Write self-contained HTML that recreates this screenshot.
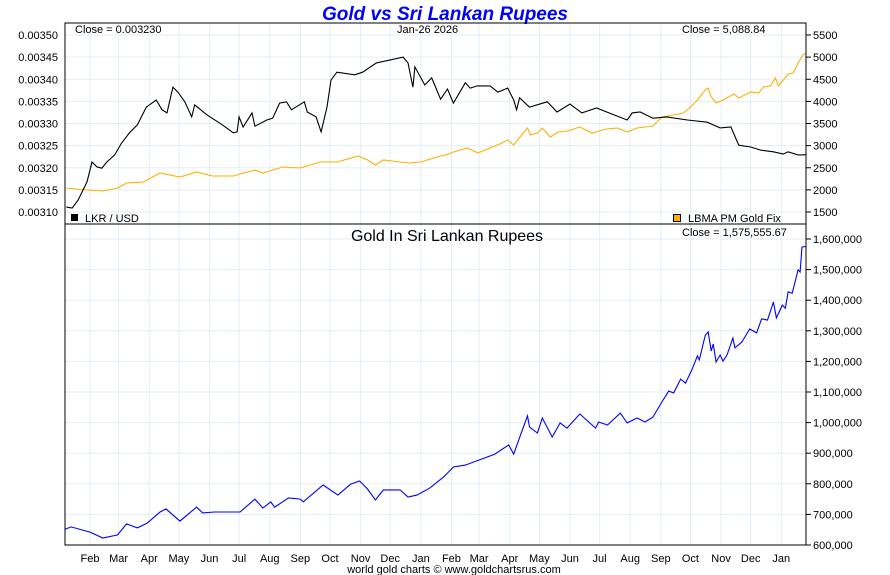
<!DOCTYPE html>
<html><head><meta charset="utf-8"><style>
html,body{margin:0;padding:0;background:#fff;}
svg{display:block;font-family:"Liberation Sans",Arial,sans-serif;}
</style></head><body>
<svg id="chart" width="890" height="575" viewBox="0 0 890 575">
<text x="445" y="20" text-anchor="middle" font-size="19" font-weight="bold" font-style="italic" fill="#0000ff">Gold vs Sri Lankan Rupees</text>
<g id="grid"></g>
<g id="series"></g>
<rect x="65" y="23" width="741" height="201" fill="none" stroke="#000" stroke-width="1"/>
<rect x="65" y="224" width="741" height="321" fill="none" stroke="#000" stroke-width="1"/>
<g id="axes" font-size="11" fill="#000"></g>
<text x="75" y="33" font-size="11">Close = 0.003230</text>
<text x="397" y="33" font-size="11">Jan-26  2026</text>
<text x="682" y="33" font-size="11">Close = 5,088.84</text>
<rect x="71" y="214" width="7" height="7" fill="#000"/>
<text x="85" y="222" font-size="11">LKR / USD</text>
<rect x="673.5" y="214.5" width="7" height="7" fill="#ffb000" stroke="#000"/>
<text x="688" y="222" font-size="11">LBMA PM Gold Fix</text>
<text x="447" y="241" font-size="16" text-anchor="middle">Gold In Sri Lankan Rupees</text>
<text x="682" y="236" font-size="11">Close = 1,575,555.67</text>
<text x="454" y="573" font-size="11" text-anchor="middle">world gold charts © www.goldchartsrus.com</text>
</svg>
<script>
// Days since 2024-01-01
const monthLabels = ["Feb","Mar","Apr","May","Jun","Jul","Aug","Sep","Oct","Nov","Dec","Jan","Feb","Mar","Apr","May","Jun","Jul","Aug","Sep","Oct","Nov","Dec","Jan"];
const monthDays = [31,60,91,121,152,182,213,244,274,305,335,366,397,425,456,486,517,547,578,609,639,670,700,731];
const leftTicks = [0.00310,0.00315,0.00320,0.00325,0.00330,0.00335,0.00340,0.00345,0.00350];
const rightTicks = [1500,2000,2500,3000,3500,4000,4500,5000,5500];
const bottomTicks = [600000,700000,800000,900000,1000000,1100000,1200000,1300000,1400000,1500000,1600000];

const lkrDays = [7,13,19,24,28,33,38,43,48,56,63,71,79,88,98,104,109,115,120,127,134,137,149,165,176,180,182,186,195,198,210,216,223,230,235,248,251,260,265,271,275,281,299,307,321,334,348,353,358,360,370,377,386,393,399,411,416,423,436,444,454,460,463,466,476,494,504,517,529,544,561,575,580,588,601,615,636,656,669,680,688,700,710,723,733,738,748,753,756];
const lkrValues = [.003111,.003109,.003127,.00315,.003168,.003213,.003202,.003199,.003213,.003229,.003256,.003279,.003297,.003337,.003353,.003331,.003324,.003382,.003371,.003349,.003315,.003342,.00332,.003297,.003279,.003281,.003315,.003292,.003324,.003294,.003308,.003312,.003346,.003349,.003331,.003349,.003326,.003315,.003281,.003337,.003398,.003416,.00341,.003416,.003437,.003443,.00345,.003437,.003382,.003428,.003387,.003403,.003355,.003378,.003346,.003392,.00338,.003385,.003385,.003371,.00338,.003353,.003331,.003358,.003337,.003349,.003326,.003344,.003324,.003335,.00332,.003308,.003324,.003326,.003312,.003315,.003308,.003303,.00329,.003292,.003251,.003247,.00324,.003236,.003231,.003236,.003229,.003229,.00323];

const goldDays = [7,28,44,59,68,85,102,122,139,155,176,198,206,226,244,264,281,303,312,320,328,345,355,366,379,394,399,413,424,436,446,454,460,468,474,477,484,489,497,505,515,527,539,554,565,575,585,601,610,622,632,639,646,654,657,660,665,672,683,688,700,708,713,720,725,728,733,738,743,748,753,756];
const goldValues = [2042,1997,1975,2042,2155,2178,2381,2291,2404,2314,2314,2449,2381,2517,2494,2630,2630,2765,2675,2562,2675,2630,2607,2630,2720,2811,2856,2946,2833,2946,3037,3127,3014,3240,3398,3240,3285,3398,3195,3308,3330,3420,3285,3375,3398,3308,3398,3443,3647,3692,3737,3873,4031,4257,4302,4099,3963,4031,4167,4076,4212,4189,4325,4347,4528,4347,4483,4619,4641,4867,5050,5089];

const lkrGoldDays = [6,12,31,44,59,68,79,89,102,108,122,139,145,157,170,183,198,206,214,218,232,244,247,267,282,295,304,312,320,328,345,353,362,375,389,399,411,441,455,460,467,474,476,484,489,499,507,514,527,543,546,555,568,575,585,593,601,610,617,622,629,634,640,646,648,654,657,660,662,665,669,672,676,682,684,691,699,706,711,717,723,726,732,735,738,742,748,750,752,756];
const lkrGoldValues = [652000,659000,642000,623000,633000,669000,656000,672000,708000,718000,678000,724000,705000,708000,708000,708000,750000,721000,741000,724000,754000,750000,741000,796000,763000,799000,809000,783000,747000,780000,780000,757000,763000,786000,822000,855000,861000,897000,927000,897000,960000,1022000,986000,966000,1015000,953000,999000,982000,1028000,982000,1002000,992000,1031000,999000,1015000,1002000,1018000,1067000,1103000,1097000,1142000,1129000,1169000,1218000,1205000,1286000,1296000,1234000,1257000,1198000,1221000,1201000,1221000,1276000,1244000,1263000,1306000,1293000,1339000,1335000,1394000,1342000,1384000,1374000,1427000,1423000,1499000,1492000,1574000,1575556];

const NS="http://www.w3.org/2000/svg";
const X0=65,X1=806,D0=5.7,D1=756;
function xS(d){return X0+(d-D0)*(X1-X0)/(D1-D0);}
function yL(v){return 212-(v-0.0031)/0.0001*44.25;}
function yR(v){return 212-(v-1500)/1000*44.25;}
function yB(v){return 545-(v-600000)/100000*30.6;}
function mk(tag,attrs,parent){const e=document.createElementNS(NS,tag);for(const k in attrs)e.setAttribute(k,attrs[k]);parent.appendChild(e);return e;}
function fmt(n){return n.toLocaleString("en-US");}

const grid=document.getElementById("grid"),axes=document.getElementById("axes"),series=document.getElementById("series");
const gc="#e3eef9";
monthDays.forEach((d,i)=>{
  const x=xS(d);
  let l=mk("line",{x1:x,x2:x,y1:23,y2:545,stroke:gc},grid);
  
  
  let t=mk("text",{x:x,y:562,"text-anchor":"middle"},axes);
  t.textContent=monthLabels[i];
  
  
});
leftTicks.forEach((v,i)=>{
  const y=yL(v);
  let l=mk("line",{x1:65,x2:806,y1:y,y2:y,stroke:gc},grid);
  
  
  let t=mk("text",{x:58,y:y+4,"text-anchor":"end"},axes);
  t.textContent=v.toFixed(5);
  
  
});
rightTicks.forEach(v=>{
  const y=yR(v);
  let tk=mk("line",{x1:806,x2:811,y1:y,y2:y,stroke:"#000"},axes);
  
  
  let t=mk("text",{x:813,y:y+4},axes);
  t.textContent=v;
  
  
});
bottomTicks.forEach(v=>{
  const y=yB(v);
  let l=mk("line",{x1:65,x2:806,y1:y,y2:y,stroke:gc},grid);
  
  
  let tk=mk("line",{x1:806,x2:811,y1:y,y2:y,stroke:"#000"},axes);
  
  
  let t=mk("text",{x:813,y:y+4},axes);
  t.textContent=fmt(v);
  
  
});
function path(days,vals,yf,color){
  return days.map((d,i)=>(i?"L":"M")+xS(d).toFixed(1)+","+yf(vals[i]).toFixed(1)).join("");
}
let p1=mk("path",{d:path(goldDays,goldValues,yR),fill:"none",stroke:"#ffb000","stroke-width":1.1},series);


let p2=mk("path",{d:path(lkrDays,lkrValues,yL),fill:"none",stroke:"#000","stroke-width":1.1},series);


let p3=mk("path",{d:path(lkrGoldDays,lkrGoldValues,yB),fill:"none",stroke:"#0000ff","stroke-width":1.1},series);


</script>
</body></html>
